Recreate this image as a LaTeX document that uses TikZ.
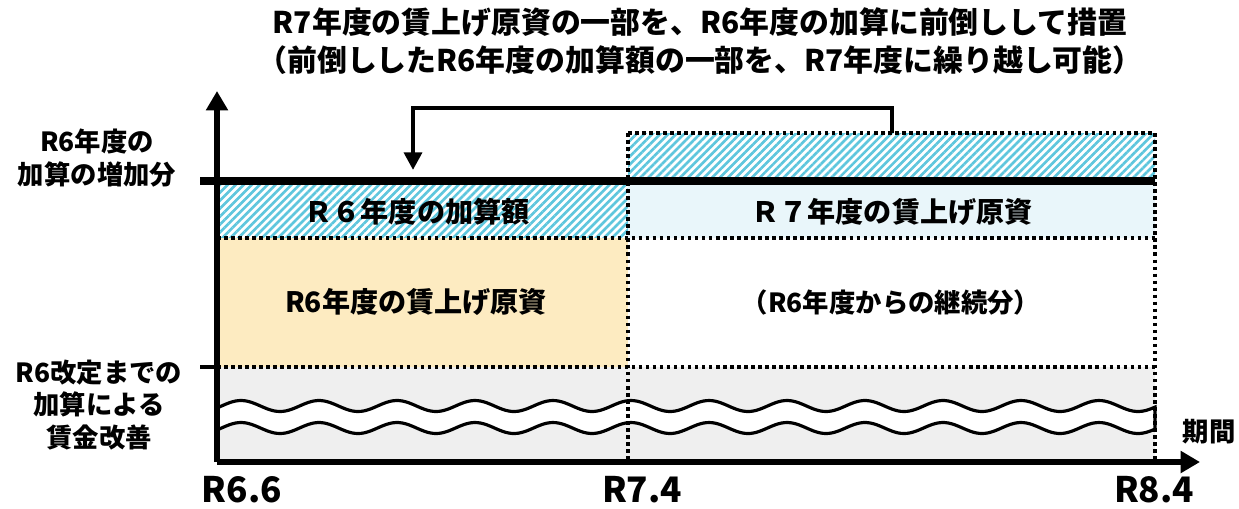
\documentclass[tikz,border=0pt]{standalone}
\usepackage{fontspec}
\setmainfont{Noto Sans CJK JP}
\usetikzlibrary{arrows.meta,patterns.meta}
\definecolor{hatchblue}{HTML}{5EC6DD}
\definecolor{paleblue}{HTML}{E9F6FA}
\definecolor{paleyellow}{HTML}{FDEBC1}
\definecolor{palegray}{HTML}{EFEFEF}
\tikzset{
  hatched/.style={pattern={Lines[angle=45,distance=3.2pt,line width=1.5pt]},pattern color=hatchblue},
  dotline/.style={line width=2pt,dash pattern=on 2pt off 2pt},
  axisline/.style={line width=3.4pt,-{Triangle[length=11pt,width=12pt]}},
  waveline/.style={line width=1.8pt},
  lbl/.style={font=\bfseries\fontsize{16}{19}\selectfont,inner sep=0},
}
\begin{document}
\begin{tikzpicture}[x=0.02cm,y=-0.02cm]
\useasboundingbox (0,0) rectangle (1239,508);
% coordinates
\coordinate (O) at (217,462);
\coordinate (Ytop) at (217,91);
\coordinate (Xend) at (1200,462);
\coordinate (b1) at (892,133);
\coordinate (b2) at (892,108);
\coordinate (b3) at (413,108);
\coordinate (b4) at (413,170);
% regions
\path[hatched] (217,185) rectangle (628,238);
\fill[paleblue] (628,185) rectangle (1155,238);
\path[hatched] (628,133) rectangle (1155,181);
\fill[paleyellow] (217,238) rectangle (628,367);
\fill[palegray] (217,367) rectangle (1155,462);
% wave band
\fill[white] plot[domain=217:1155,samples=300] (\x,{406+5.5*sin((\x-280)/78*360+90)})
  -- plot[domain=1155:217,samples=300] (\x,{428+5.5*sin((\x-280)/78*360+90)}) -- cycle;
\draw[waveline] plot[domain=217:1155,samples=300] (\x,{406+5.5*sin((\x-280)/78*360+90)})
  -- plot[domain=1155:1155,samples=2] (\x,{428+5.5*sin((\x-280)/78*360+90)});
\draw[waveline] plot[domain=217:1155,samples=300] (\x,{428+5.5*sin((\x-280)/78*360+90)});
% dotted lines
\draw[dotline] (217,238) -- (1155,238);
\draw[dotline] (217,367) -- (1155,367);
\draw[dotline] (628,133) -- (628,462);
\draw[dotline] (1155,133) -- (1155,462);
\draw[dotline] (628,133) -- (1155,133);
% thick level line and ticks
\draw[line width=5pt] (200,181) -- (1155,181);
\draw[line width=2.6pt] (200,367) -- (217,367);
% axes
\draw[axisline] (O) -- (Ytop);
\draw[axisline] (O) -- (Xend);
% bracket arrow
\draw[line width=2.7pt,-{Triangle[length=10pt,width=10pt]}] (b1) -- (b2) -- (b3) -- (b4);
% texts
\node[lbl,font=\bfseries\fontsize{17}{20}\selectfont] (t1) at (700,22) {R7年度の賃上げ原資の一部を、R6年度の加算に前倒しして措置};
\node[lbl,font=\bfseries\fontsize{17}{20}\selectfont] (t2) at (700,60) {（前倒ししたR6年度の加算額の一部を、R7年度に繰り越し可能）};
\node[lbl] (a1) at (417,212) {Ｒ６年度の加算額};
\node[lbl] (a2) at (892,212) {Ｒ７年度の賃上げ原資};
\node[lbl] (a3) at (416,302) {R6年度の賃上げ原資};
\node[lbl,font=\bfseries\fontsize{15}{18}\selectfont] (a4) at (891,302) {（R6年度からの継続分）};
\node[lbl,font=\bfseries\fontsize{15}{18.7}\selectfont,align=center] (l1) at (97,158) {R6年度の\\加算の増加分};
\node[lbl,font=\bfseries\fontsize{15}{18.7}\selectfont,align=center] (l2) at (99,405) {R6改定までの\\加算による\\賃金改善};
\node[lbl,font=\bfseries\fontsize{15}{18}\selectfont] (p) at (1209,432) {期間};
\node[lbl,font=\bfseries\fontsize{20}{24}\selectfont] (x1) at (242,490) {R6.6};
\node[lbl,font=\bfseries\fontsize{20}{24}\selectfont] (x2) at (642,490) {R7.4};
\node[lbl,font=\bfseries\fontsize{20}{24}\selectfont] (x3) at (1154,490) {R8.4};
\end{tikzpicture}
\end{document}
